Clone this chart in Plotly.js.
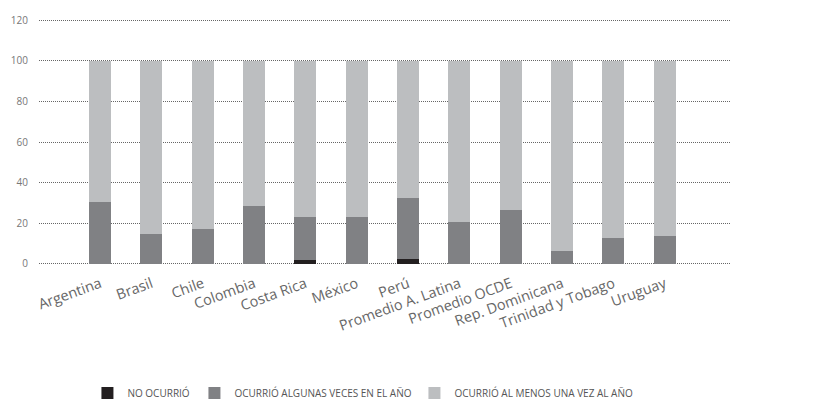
<!DOCTYPE html>
<html>
<head>
<meta charset="utf-8">
<script src="https://cdn.plot.ly/plotly-3.0.1.min.js"></script>
<style>html,body{margin:0;padding:0;background:#fff;}#chart{width:829px;height:403px;}</style>
</head>
<body>
<div id="chart"></div>
<script>
const categories = ["Argentina","Brasil","Chile","Colombia","Costa Rica","México","Perú","Promedio A. Latina","Promedio OCDE","Rep. Dominicana","Trinidad y Tobago","Uruguay"];
const noOcurrio = [0,0,0,0,2,0,2.5,0,0,0,0,0];
const algunasVeces = [30.2,14.8,17.2,28.6,21.2,23.2,30,20.7,26.6,6.4,12.8,13.8];
const alMenosUna = [69.8,85.2,82.8,71.4,76.8,76.8,67.5,79.3,73.4,93.6,87.2,86.2];
const seriesNames = ["NO OCURRIÓ","OCURRIÓ ALGUNAS VECES EN EL AÑO","OCURRIÓ AL MENOS UNA VEZ AL AÑO"];
const yTicks = [0,20,40,60,80,100,120];

const colors = ["#231f20","#808184","#bcbec0"];
const vals = [noOcurrio, algunasVeces, alMenosUna];
const legendWidths = [62, 175, 200];
const traces = vals.map((v,i)=>({
  type:'bar', x:categories, y:v, name:seriesNames[i],
  marker:{color:colors[i], line:{width:0}}, width:0.43,
  legendwidth: legendWidths[i], hoverinfo:'y'
}));

const layout = {
  width:829, height:403,
  margin:{l:39, r:98, t:17.6, b:136.6},
  barmode:'stack',
  paper_bgcolor:'#fff', plot_bgcolor:'#fff',
  font:{family:'"Open Sans", sans-serif', color:'#666', size:11},
  showlegend:true,
  legend:{orientation:'h', x:0.07, xanchor:'left', xref:'paper', yref:'container', y:0.025, yanchor:'middle',
          font:{size:10, color:'#555'}, itemwidth:30, traceorder:'normal'},
  xaxis:{type:'category', range:[-1.19, 12.29], showgrid:false, zeroline:false, showline:false, automargin:false,
         ticks:'', tickangle:-20, ticklabelstandoff:6, tickfont:{size:14.5, color:'#666'}, fixedrange:true},
  yaxis:{range:[-1.2,121.2], tickvals:yTicks, ticktext:yTicks.map(String), showgrid:true, gridcolor:'#666', griddash:'1px,1px', gridwidth:1,
         zeroline:false, showline:false, ticks:'', automargin:false, ticklabelstandoff:10, tickfont:{size:10, color:'#777'}, fixedrange:true}
};
Plotly.newPlot('chart', traces, layout, {displayModeBar:false, staticPlot:true});
</script>
</body>
</html>
